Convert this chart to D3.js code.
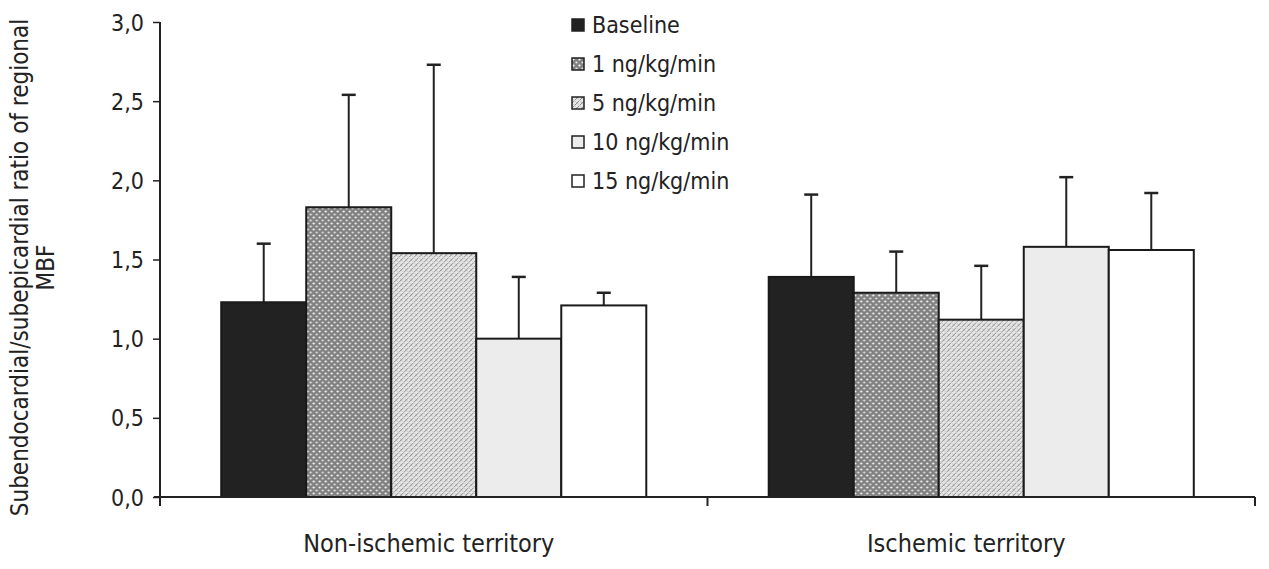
<!DOCTYPE html>
<html>
<head>
<meta charset="utf-8">
<script src="https://cdn.jsdelivr.net/npm/d3@7"></script>
<style>
    body { margin: 0; background: #fff; }
    text { font-family: "Liberation Sans Narrow", "DejaVu Sans Condensed", "Liberation Sans", sans-serif; fill: #222; }
</style>
</head>
<body>
<div id="chartholder"></div>
<script>
// data
var territories = ['Non-ischemic territory', 'Ischemic territory'];
var doses = ['Baseline', '1 ng/kg/min', '5 ng/kg/min', '10 ng/kg/min', '15 ng/kg/min'];
var nonIschemicMean = [1.23, 1.83, 1.54, 1.00, 1.21];
var nonIschemicSD   = [0.37, 0.71, 1.19, 0.39, 0.08];
var ischemicMean    = [1.39, 1.29, 1.12, 1.58, 1.56];
var ischemicSD      = [0.52, 0.26, 0.34, 0.44, 0.36];
var yTicks = [0, 0.5, 1.0, 1.5, 2.0, 2.5, 3.0];

var data = [];
territories.forEach(function (t, i) {
    var means = i === 0 ? nonIschemicMean : ischemicMean;
    var sds = i === 0 ? nonIschemicSD : ischemicSD;
    doses.forEach(function (d, j) {
        data.push({ territory: t, dose: d, mean: means[j], sd: sds[j] });
    });
});

var width = 1269, height = 569;
var margin = { top: 22, right: 14, bottom: 72, left: 160 };

var svg = d3.select('#chartholder').append('svg')
    .attr('width', width)
    .attr('height', height);

// fill patterns for the doses
var defs = svg.append('defs');

var p1 = defs.append('pattern').attr('id', 'pat1')
    .attr('width', 6).attr('height', 6).attr('patternUnits', 'userSpaceOnUse');
p1.append('rect').attr('width', 6).attr('height', 6).attr('fill', '#808080');
p1.append('circle').attr('cx', 1.5).attr('cy', 1.5).attr('r', 1.1).attr('fill', '#fff');
p1.append('circle').attr('cx', 4.5).attr('cy', 4.5).attr('r', 1.1).attr('fill', '#e6e6e6');

var p5 = defs.append('pattern').attr('id', 'pat5')
    .attr('width', 5).attr('height', 5).attr('patternUnits', 'userSpaceOnUse');
p5.append('rect').attr('width', 5).attr('height', 5).attr('fill', '#e6e6e6');
p5.append('path').attr('d', 'M0,5 L5,0').attr('stroke', '#8c8c8c').attr('stroke-width', 1);
p5.append('path').attr('d', 'M0,0 L5,5').attr('stroke', '#c4c4c4').attr('stroke-width', 0.8);

var fills = {
    'Baseline': '#222',
    '1 ng/kg/min': 'url(#pat1)',
    '5 ng/kg/min': 'url(#pat5)',
    '10 ng/kg/min': '#ececec',
    '15 ng/kg/min': '#fff'
};

var x0 = d3.scaleBand()
    .domain(territories)
    .range([margin.left, width - margin.right])
    .paddingInner(0)
    .paddingOuter(0);

var x1 = d3.scaleBand()
    .domain(doses)
    .range([0, x0.bandwidth()])
    .paddingInner(0)
    .paddingOuter(0.72);

var y = d3.scaleLinear()
    .domain([0, 3])
    .range([height - margin.bottom, margin.top]);

// bars
var bars = svg.append('g').attr('id', 'bars')
    .selectAll('g')
    .data(data)
    .enter().append('g')
        .attr('transform', function (d) { return 'translate(' + (x0(d.territory) + x1(d.dose)) + ',0)'; });

// error bars, upward only
bars.append('line')
    .attr('x1', x1.bandwidth() / 2).attr('x2', x1.bandwidth() / 2)
    .attr('y1', function (d) { return y(d.mean); })
    .attr('y2', function (d) { return y(d.mean + d.sd); })
    .attr('stroke', '#222').attr('stroke-width', 2);
bars.append('line')
    .attr('x1', x1.bandwidth() / 2 - 7).attr('x2', x1.bandwidth() / 2 + 7)
    .attr('y1', function (d) { return y(d.mean + d.sd); })
    .attr('y2', function (d) { return y(d.mean + d.sd); })
    .attr('stroke', '#222').attr('stroke-width', 2.5);

bars.append('rect')
    .attr('x', 0)
    .attr('y', function (d) { return y(d.mean); })
    .attr('width', x1.bandwidth())
    .attr('height', function (d) { return y(0) - y(d.mean); })
    .attr('fill', function (d) { return fills[d.dose]; })
    .attr('stroke', '#1a1a1a')
    .attr('stroke-width', 2);

// y axis
var yAxis = svg.append('g')
    .attr('transform', 'translate(' + margin.left + ',0)')
    .call(d3.axisLeft(y)
        .tickValues(yTicks)
        .tickSize(7)
        .tickSizeOuter(0)
        .tickPadding(9)
        .tickFormat(function (d) { return d3.format('.1f')(d).replace('.', ','); }));
yAxis.select('.domain').attr('stroke', '#222').attr('stroke-width', 2)
    .attr('d', 'M0,' + y(3) + 'V' + (y(0) + 9));
yAxis.selectAll('.tick line').attr('stroke', '#222').attr('stroke-width', 1.5);
yAxis.selectAll('.tick text').style('font-size', '23px').attr('fill', '#222').attr('dy', '0.35em');

// x axis with ticks at group boundaries
var xAxisG = svg.append('g').attr('id', 'xaxis');
xAxisG.append('line')
    .attr('x1', x0.range()[0] - 6).attr('x2', x0.range()[1])
    .attr('y1', y(0)).attr('y2', y(0))
    .attr('stroke', '#222').attr('stroke-width', 2);
xAxisG.selectAll('.bound')
    .data(territories.slice(1).map(function (t) { return x0(t); }).concat([x0.range()[1]]))
    .enter().append('line')
        .attr('x1', function (d) { return d; }).attr('x2', function (d) { return d; })
        .attr('y1', y(0)).attr('y2', y(0) + 9)
        .attr('stroke', '#222').attr('stroke-width', 2);

xAxisG.selectAll('.cat')
    .data(territories)
    .enter().append('text')
        .attr('x', function (t, i) { return x0(t) + x1('5 ng/kg/min') + x1.bandwidth() / 2 - 5 - i * 10; })
        .attr('y', y(0) + 55)
        .attr('text-anchor', 'middle')
        .style('font-size', '25px')
        .text(function (t) { return t; });

// y axis title, two lines
var yTitle = svg.append('text')
    .attr('transform', 'translate(28,' + (margin.top + (y(0) - margin.top) / 2 + 8) + ') rotate(-90)')
    .attr('text-anchor', 'middle')
    .style('font-size', '24px');
yTitle.append('tspan').attr('x', 0).attr('dy', 0).text('Subendocardial/subepicardial ratio of regional');
yTitle.append('tspan').attr('x', 0).attr('dy', 26).text('MBF');

// legend
var legend = svg.append('g').attr('transform', 'translate(572,25)')
    .selectAll('g')
    .data(doses)
    .enter().append('g')
        .attr('transform', function (d, i) { return 'translate(0,' + (i * 39) + ')'; });
legend.append('rect')
    .attr('x', 0).attr('y', -6).attr('width', 12).attr('height', 12)
    .attr('fill', function (d) { return fills[d]; })
    .attr('stroke', '#222').attr('stroke-width', 1.5);
legend.append('text')
    .attr('x', 20).attr('y', 0).attr('dy', '0.35em')
    .style('font-size', '23px')
    .text(function (d) { return d; });
</script>
</body>
</html>
